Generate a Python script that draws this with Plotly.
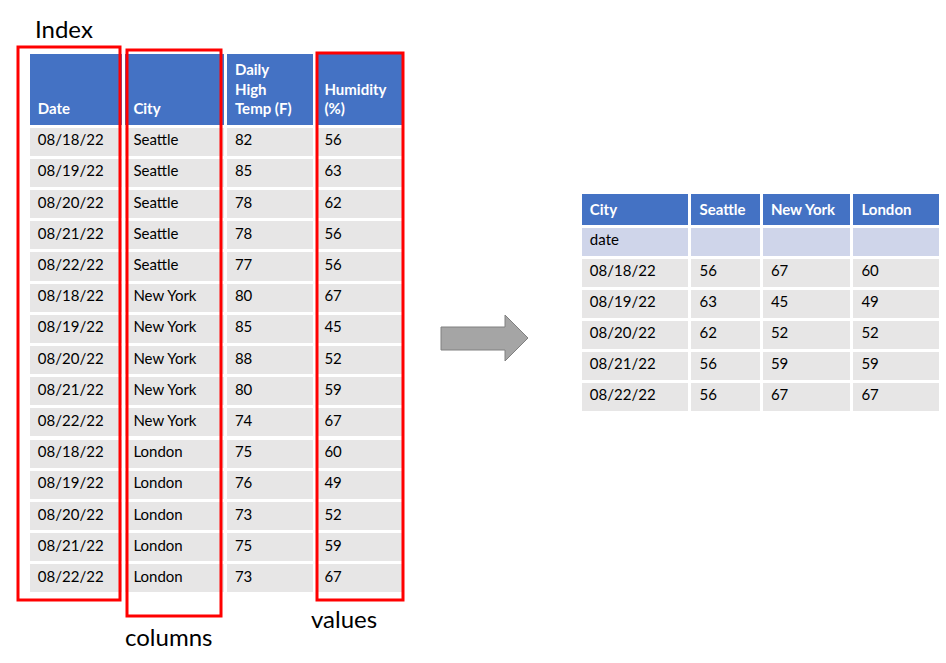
import pandas as pd
import plotly.graph_objects as go

W, H = 946, 663

# long-form data (left table)
dates = ["08/18/22", "08/19/22", "08/20/22", "08/21/22", "08/22/22",
         "08/18/22", "08/19/22", "08/20/22", "08/21/22", "08/22/22",
         "08/18/22", "08/19/22", "08/20/22", "08/21/22", "08/22/22"]
cities = ["Seattle", "Seattle", "Seattle", "Seattle", "Seattle",
          "New York", "New York", "New York", "New York", "New York",
          "London", "London", "London", "London", "London"]
high_temp = [82, 85, 78, 78, 77, 80, 85, 88, 80, 74, 75, 76, 73, 75, 73]
humidity = [56, 63, 62, 56, 56, 67, 45, 52, 59, 67, 60, 49, 52, 59, 67]

NB = "\u00a0"
left_headers = [f"{NB}<br>{NB}<br>Date", f"{NB}<br>{NB}<br>City",
                "Daily<br>High<br>Temp (F)", f"{NB}<br>Humidity<br>(%)"]
city_order = ["Seattle", "New York", "London"]

BLUE = "#4472C4"
GREY = "#E7E6E6"
PALE = "#CFD5EA"
RED = "#FF0000"
FONT = "Lato"
PAD = "\u2009"  # small extra left padding inside cells


def px(x):
    return x / W


def py(y):
    return 1 - y / H


def padded(col):
    return [f"{PAD}{v}" if v != "" else "" for v in col]


df = pd.DataFrame({"date": dates, "City": cities,
                   "temp": high_temp, "humidity": humidity})
wide = df.pivot(index="date", columns="City", values="humidity")[city_order]

# left table: the long data
left = go.Table(
    domain=dict(x=[px(28), px(404)], y=[py(600), py(52)]),
    columnwidth=[95, 101, 89, 89],
    header=dict(values=[f"<b>{h.replace('<br>', '<br>' + PAD)}</b>" for h in
                        [PAD + h for h in left_headers]],
                fill_color=BLUE, line=dict(color="white", width=3),
                align="left", height=74,
                font=dict(family=FONT, size=15, color="white")),
    cells=dict(values=[padded(dates), padded(cities), padded(high_temp), padded(humidity)],
               fill_color=GREY, line=dict(color="white", width=3),
               align="left", height=31.2,
               font=dict(family=FONT, size=15, color="black")),
)

# right table: the pivoted result
n = len(wide)
first_col = ["date"] + list(wide.index)
other_cols = [[""] + list(wide[c]) for c in city_order]
row_fill = [PALE] + [GREY] * n
right = go.Table(
    domain=dict(x=[px(580), px(940)], y=[py(416), py(192)]),
    columnwidth=[109, 71, 90, 88],
    header=dict(values=[f"<b>{PAD}{h}</b>" for h in ["City"] + city_order],
                fill_color=BLUE, line=dict(color="white", width=3),
                align="left", height=31,
                font=dict(family=FONT, size=15, color="white")),
    cells=dict(values=[padded(c) for c in [first_col] + other_cols],
               fill_color=[row_fill] * 4, line=dict(color="white", width=3),
               align="left", height=31,
               font=dict(family=FONT, size=15, color="black")),
)

fig = go.Figure(data=[left, right])

shapes = []
# red outline boxes: (x0, y0, x1, y1) in pixels
for x0, y0, x1, y1 in [(18, 47, 120, 600), (127, 50, 221, 616), (317, 53, 403, 600)]:
    shapes.append(dict(type="rect", xref="paper", yref="paper",
                       x0=px(x0), x1=px(x1), y0=py(y0), y1=py(y1),
                       line=dict(color=RED, width=3), fillcolor="rgba(0,0,0,0)"))

# grey block arrow
pts = [(441, 327), (505, 327), (505, 315), (528, 338), (505, 361), (505, 350), (441, 350)]
path = "M " + " L ".join(f"{px(x)},{py(y)}" for x, y in pts) + " Z"
shapes.append(dict(type="path", xref="paper", yref="paper", path=path,
                   fillcolor="#A5A5A5", line=dict(color="#808080", width=1)))

annotations = [
    dict(text="Index", x=px(33), y=py(29), xanchor="left", yanchor="middle"),
    dict(text="columns", x=px(123), y=py(636), xanchor="left", yanchor="middle"),
    dict(text="values", x=px(309), y=py(618), xanchor="left", yanchor="middle"),
]
for a in annotations:
    a.update(xref="paper", yref="paper", showarrow=False,
             font=dict(family=FONT, size=24, color="black"))

fig.update_layout(
    width=W, height=H, margin=dict(l=0, r=0, t=0, b=0),
    paper_bgcolor="white", plot_bgcolor="white",
    shapes=shapes, annotations=annotations, showlegend=False,
)

fig.write_html("out.html", config={"displayModeBar": False},
               post_script="document.body.style.margin='0';document.body.style.overflow='hidden';")
